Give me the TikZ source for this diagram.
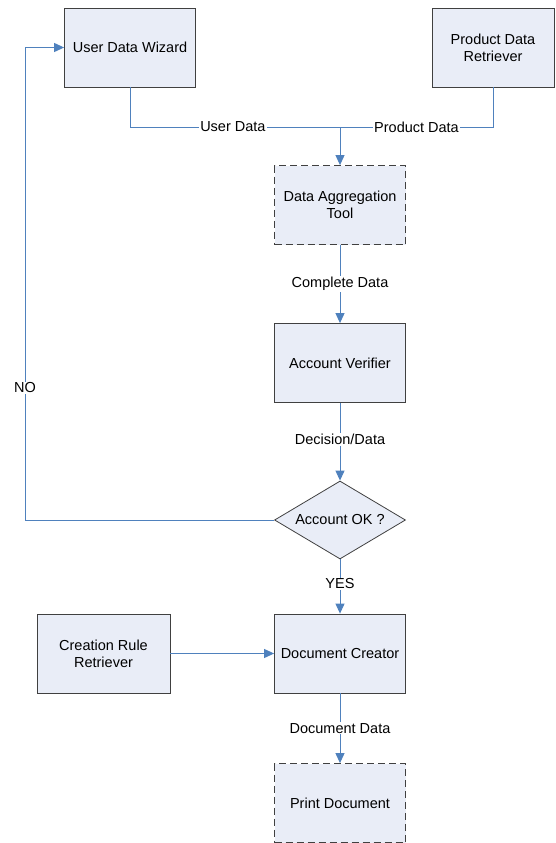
\documentclass[tikz,border=0pt]{standalone}
\usepackage{fontspec}
\setmainfont{Liberation Sans}
\usetikzlibrary{shapes.geometric,arrows.meta}
\definecolor{boxfill}{HTML}{E9EDF7}
\definecolor{flowblue}{HTML}{4F81BD}
\definecolor{edgegray}{HTML}{404040}
\tikzset{
  txt/.style={font=\fontsize{14.5}{17}\selectfont},
  proc/.style={txt, draw=edgegray, line width=0.8pt, fill=boxfill, minimum width=131pt,
    minimum height=79pt, inner sep=2pt, align=center},
  dproc/.style={proc, dash pattern=on 7pt off 4pt},
  decide/.style={txt, draw=edgegray, line width=0.8pt, fill=boxfill, diamond, aspect=1.68,
    minimum width=131pt, minimum height=78pt, inner sep=0pt},
  flow/.style={draw=flowblue, line width=1pt},
  flowarrow/.style={flow, -{Triangle[width=9pt,length=10pt]}},
  lbl/.style={txt, fill=white, inner sep=1pt}
}
\begin{document}
\begin{tikzpicture}[x=1pt,y=-1pt]
\useasboundingbox (0,0) rectangle (555,843);
% process boxes
\node[proc] (wiz) at (130,47.5) {User Data Wizard};
\node[proc, minimum width=122pt] (prod) at (493,47.5) {Product Data\\Retriever};
\node[dproc] (agg) at (340,205) {Data Aggregation\\Tool};
\node[proc] (ver) at (340,363) {Account Verifier};
\node[decide] (ok) at (340,520) {Account OK ?};
\node[proc, minimum width=133pt] (rule) at (103.5,653.5) {Creation Rule\\Retriever};
\node[proc] (doc) at (340,653.5) {Document Creator};
\node[dproc] (print) at (340,803) {Print Document};
% merge point of the two data sources
\coordinate (merge) at (340,127);
\coordinate (loop) at (25,520);
% connectors
\draw[flow] (wiz.south) |- (merge) node[lbl, pos=0.745] {User Data};
\draw[flow] (prod.south) |- (merge) node[lbl, pos=0.75] {Product Data};
\draw[flowarrow] (merge) -- (agg.north);
\draw[flowarrow] (agg.south) -- node[lbl] {Complete Data} (ver.north);
\draw[flowarrow] (ver.south) -- node[lbl, pos=0.47] {Decision/Data} (ok.north);
\draw[flowarrow] (ok.west) -- (loop) |- node[lbl, pos=0.14] {NO} (wiz.west);
\draw[flowarrow] (ok.south) -- node[lbl, pos=0.45] {YES} (doc.north);
\draw[flowarrow] (rule.east) -- (doc.west);
\draw[flowarrow] (doc.south) -- node[lbl, pos=0.5] {Document Data} (print.north);
\end{tikzpicture}
\end{document}
